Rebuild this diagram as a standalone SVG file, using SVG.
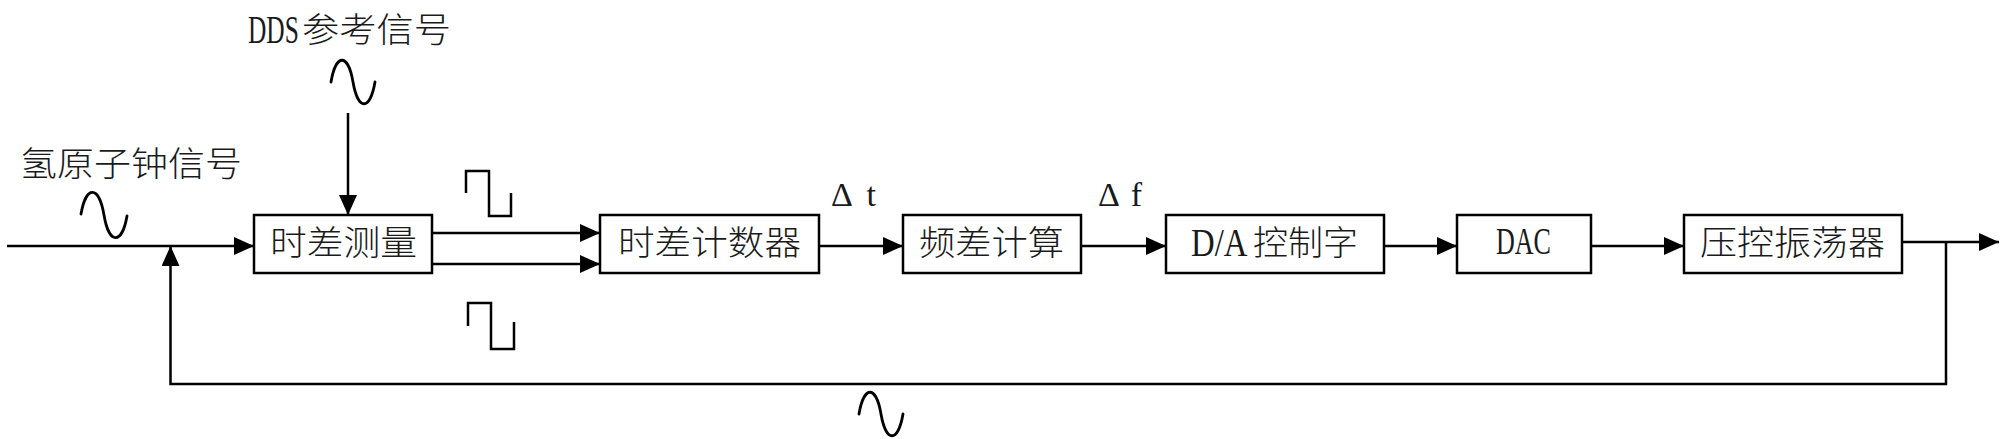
<svg xmlns="http://www.w3.org/2000/svg" width="2000" height="439" viewBox="0 0 2000 439">
<style>
.box{fill:#fff;stroke:#000;stroke-width:2.5}
.ln{fill:none;stroke:#000;stroke-width:2.5}
.wv{fill:none;stroke:#000;stroke-width:2.8;stroke-linecap:round}
.t{font-family:"Noto Sans CJK SC","Liberation Serif",serif;font-size:34px;fill:#1a1a1a;font-weight:300}
.lt{font-family:"Liberation Serif","Noto Sans CJK SC",serif;font-size:34px;fill:#1a1a1a}
.big{font-size:41px}
</style>
<defs>
<marker id="ah" markerUnits="userSpaceOnUse" markerWidth="22" markerHeight="20" refX="20" refY="9" orient="auto">
<path d="M0,0 L20,9 L0,18 Z" fill="#000"/>
</marker>
</defs>
<rect width="2000" height="439" fill="#fff"/>
<g id="labels">
<text class="t" x="20" y="176" textLength="222" lengthAdjust="spacingAndGlyphs">氢原子钟信号</text>
<text class="lt big" transform="translate(248,43) scale(0.62,1)" x="0" y="0">DDS</text>
<text class="t" x="302" y="42" textLength="149" lengthAdjust="spacingAndGlyphs">参考信号</text>
<text class="lt" x="831" y="206" textLength="45" lengthAdjust="spacing">Δt</text>
<text class="lt" x="1098" y="206" textLength="44" lengthAdjust="spacing">Δf</text>
</g>
<g id="waves">
<path class="wv" d="M81,214 C86,185 99,185 104,215 C109,245 122,245 127,216"/>
<path class="wv" d="M331,82 C336,53 348,53 353,82 C358,111 370,111 375,82"/>
<path class="wv" d="M859,414 C864,385 876,385 881,414 C886,443 898,443 903,414"/>
<path class="ln" d="M466,193 V171 H489 V216 H511 V193"/>
<path class="ln" d="M468,326 V303 H491 V349 H514 V322"/>
</g>
<g id="n1"><rect class="box" x="254" y="215" width="178" height="58"/>
<text class="t" x="270" y="255" textLength="147" lengthAdjust="spacingAndGlyphs">时差测量</text></g>
<g id="n2"><rect class="box" x="600" y="215" width="219" height="58"/>
<text class="t" x="618" y="255" textLength="183" lengthAdjust="spacingAndGlyphs">时差计数器</text></g>
<g id="n3"><rect class="box" x="903" y="215" width="178" height="58"/>
<text class="t" x="919" y="255" textLength="145" lengthAdjust="spacingAndGlyphs">频差计算</text></g>
<g id="n4"><rect class="box" x="1166" y="215" width="218" height="58"/>
<text class="lt big" transform="translate(1191,256) scale(0.8,1)" x="0" y="0">D/A</text>
<text class="t" x="1253" y="255" textLength="105" lengthAdjust="spacingAndGlyphs">控制字</text></g>
<g id="n5"><rect class="box" x="1457" y="215" width="134" height="58"/>
<text class="lt" x="1496" y="254" textLength="55" lengthAdjust="spacingAndGlyphs" style="font-size:37px">DAC</text></g>
<g id="n6"><rect class="box" x="1684" y="215" width="218" height="58"/>
<text class="t" x="1700" y="255" textLength="185" lengthAdjust="spacingAndGlyphs">压控振荡器</text></g>
<g id="connectors">
<path class="ln" d="M7,246 H254" marker-end="url(#ah)"/>
<path class="ln" d="M348,113 V215" marker-end="url(#ah)"/>
<path class="ln" d="M432,233 H600" marker-end="url(#ah)"/>
<path class="ln" d="M432,264 H600" marker-end="url(#ah)"/>
<path class="ln" d="M819,246 H903" marker-end="url(#ah)"/>
<path class="ln" d="M1081,246 H1166" marker-end="url(#ah)"/>
<path class="ln" d="M1384,246 H1457" marker-end="url(#ah)"/>
<path class="ln" d="M1591,246 H1684" marker-end="url(#ah)"/>
<path class="ln" d="M1902,242 H1999" marker-end="url(#ah)"/>
<path class="ln" d="M1946,242 V384 H170.5 V246" marker-end="url(#ah)"/>
</g>
</svg>
